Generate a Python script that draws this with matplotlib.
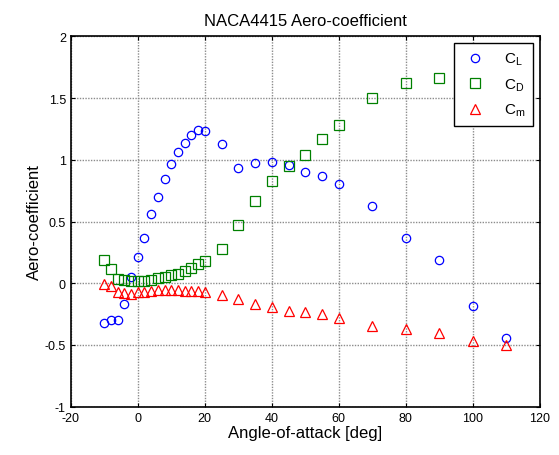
import numpy as np
import matplotlib
matplotlib.use('Agg')
import matplotlib.pyplot as plt

plt.rcParams['font.family'] = ['Liberation Sans', 'DejaVu Sans']
plt.rcParams['mathtext.default'] = 'regular'
plt.rcParams['axes.unicode_minus'] = False

# angle of attack for the lift / moment data
alpha = [-10, -8, -6, -4, -2, 0, 2, 4, 6, 8, 10, 12, 14, 16, 18, 20,
         25, 30, 35, 40, 45, 50, 55, 60, 70, 80, 90, 100, 110]

cl = [-0.32, -0.30, -0.295, -0.165, 0.05, 0.21, 0.37, 0.56, 0.70, 0.845,
      0.967, 1.06, 1.14, 1.20, 1.24, 1.234, 1.13, 0.93, 0.975, 0.985,
      0.96, 0.905, 0.867, 0.807, 0.624, 0.37, 0.186, -0.186, -0.446]

# drag has no values past 90 deg
alpha_d = alpha[:27]
cd = [0.186, 0.116, 0.032, 0.027, 0.019, 0.019, 0.022, 0.03, 0.04, 0.049,
      0.067, 0.078, 0.097, 0.124, 0.154, 0.183, 0.28, 0.472, 0.667, 0.826,
      0.953, 1.042, 1.167, 1.283, 1.499, 1.623, 1.666]

cm = [-0.003, -0.02, -0.073, -0.078, -0.084, -0.073, -0.068, -0.06, -0.055,
      -0.055, -0.052, -0.055, -0.06, -0.065, -0.065, -0.073, -0.092, -0.128,
      -0.168, -0.19, -0.222, -0.233, -0.251, -0.278, -0.35, -0.37, -0.40,
      -0.47, -0.50]

fig = plt.figure(figsize=(5.59, 4.56), dpi=100)
ax = fig.add_axes([0.1265, 0.106, 0.8395, 0.812])

ax.plot(alpha, cl, 'o', mfc='none', mec='#0000ff', ms=6, mew=0.9, label='$C_L$')
ax.plot(alpha_d, cd, 's', mfc='none', mec='#008000', ms=6.5, mew=0.9, label='$C_D$')
ax.plot(alpha, cm, '^', mfc='none', mec='#ff0000', ms=7, mew=0.9, label='$C_m$')

ax.set_xlim(-20, 120)
ax.set_ylim(-1, 2)
ax.set_xticks(np.arange(-20, 121, 20))
ax.set_yticks(np.arange(-1, 2.01, 0.5))
ax.set_yticklabels(['-1', '-0.5', '0', '0.5', '1', '1.5', '2'])
ax.grid(True, color='0.55', linestyle=(0, (1, 1)), linewidth=1.0)
ax.tick_params(direction='in', top=True, right=True, labelsize=9, length=3)
for s in ax.spines.values():
    s.set_linewidth(1.2)

ax.set_xlabel('Angle-of-attack [deg]', fontsize=12, labelpad=1)
ax.set_ylabel('Aero-coefficient', fontsize=12, labelpad=2)
ax.set_title('NACA4415 Aero-coefficient', fontsize=12, pad=8)

leg = ax.legend(loc='upper right', fontsize=11, fancybox=False, framealpha=1,
                edgecolor='black', borderaxespad=0.45, handletextpad=1.0,
                labelspacing=0.6, borderpad=0.5, handlelength=1.8)
leg.get_frame().set_linewidth(1.0)

fig.savefig('out.png', dpi=100)
